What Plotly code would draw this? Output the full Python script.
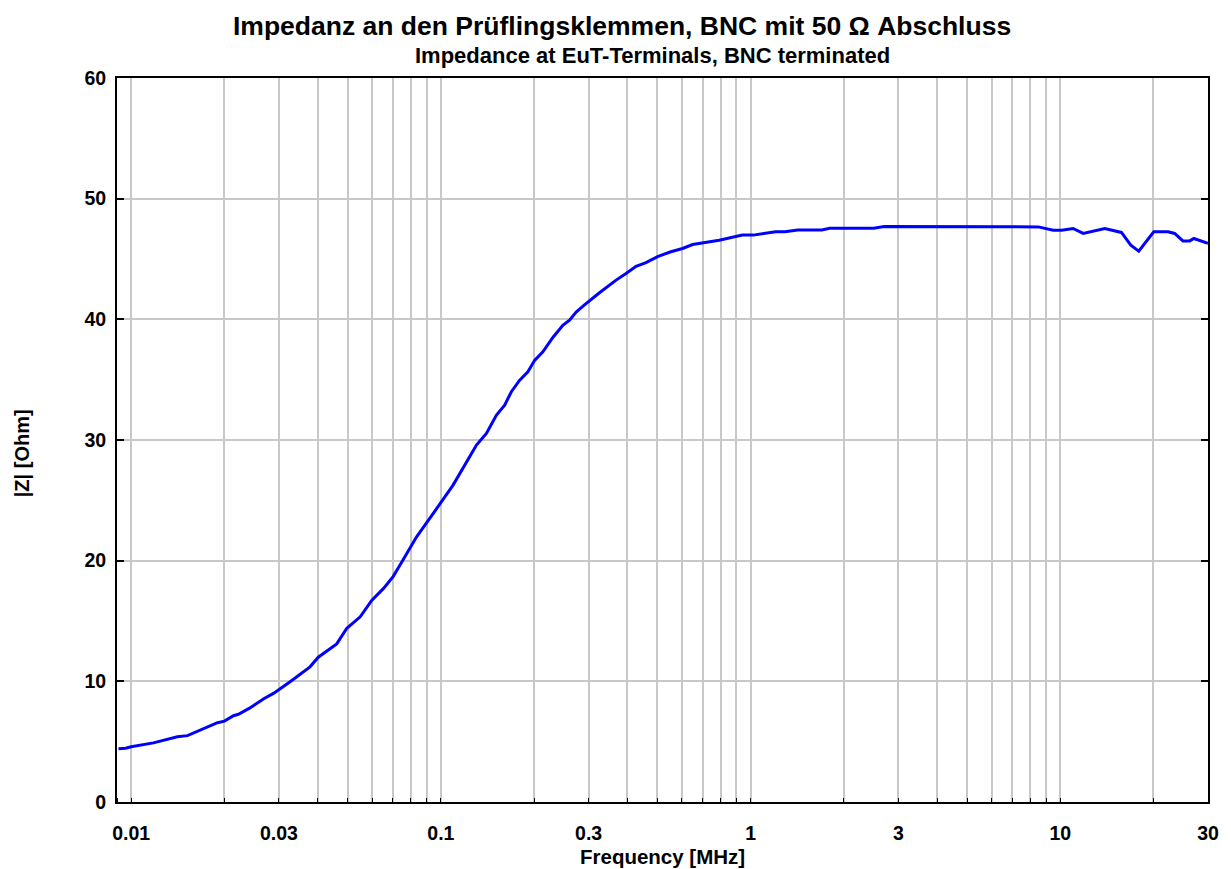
import math
import plotly.graph_objects as go

# Data
freq_mhz = [0.0091, 0.0096, 0.0100, 0.0118, 0.0141, 0.0152, 0.0190, 0.0200, 0.0214, 0.0222, 0.0242,
            0.0268, 0.0288, 0.0299, 0.0326, 0.0378, 0.0402, 0.0461, 0.0497, 0.0549, 0.0598,
            0.0653, 0.0702, 0.0752, 0.0835, 0.0944, 0.1095, 0.1303, 0.1403, 0.1512, 0.1607,
            0.1689, 0.1797, 0.1910, 0.2008, 0.2135, 0.2300, 0.2476, 0.2603, 0.2735, 0.2909,
            0.3252, 0.3680, 0.3963, 0.4268, 0.4597, 0.5010, 0.5530, 0.6030, 0.6500, 0.7920,
            0.9410, 1.020, 1.205, 1.290, 1.420, 1.700, 1.800, 2.500, 2.700, 4.36, 8.5, 9.49,
            10.1, 11.0, 11.86, 13.93, 15.76, 16.9, 17.93, 20.04, 22.28, 23.41, 24.9, 26.2,
            27.0, 30.0]
z_ohm = [4.42, 4.45, 4.58, 4.9, 5.4, 5.5, 6.57, 6.7, 7.15, 7.27, 7.8,
         8.56, 9.0, 9.28, 9.97, 11.2, 12.0, 13.1, 14.4, 15.35, 16.7,
         17.7, 18.7, 20.0, 21.98, 23.9, 26.26, 29.58, 30.55, 32.06, 32.89,
         34.0, 34.96, 35.65, 36.6, 37.3, 38.5, 39.5, 39.93, 40.6, 41.2,
         42.2, 43.25, 43.8, 44.4, 44.7, 45.2, 45.6, 45.87, 46.2, 46.56,
         46.98, 46.98, 47.25, 47.25, 47.4, 47.4, 47.55, 47.55, 47.7, 47.66, 47.66, 47.39,
         47.39, 47.53, 47.12, 47.53, 47.2, 46.15, 45.65, 47.25, 47.25, 47.12, 46.5, 46.5,
         46.7, 46.3]

x_tick_vals = [0.01, 0.03, 0.1, 0.3, 1, 3, 10, 30]
x_tick_text = ["0.01", "0.03", "0.1", "0.3", "1", "3", "10", "30"]
decades = [0.01, 0.1, 1, 10]
grid_vals = [m * d for d in [0.001, 0.01, 0.1, 1, 10] for m in range(1, 10)]
grid_vals = [g for g in grid_vals if 0.009 <= g <= 30]

title_main = "Impedanz an den Prüflingsklemmen, BNC mit 50 Ω Abschluss"
title_sub = "Impedance at EuT-Terminals, BNC terminated"
x_title = "Frequency [MHz]"
y_title = "|Z| [Ohm]"

FONT = "Liberation Sans, Arial, sans-serif"
GRID = "#c8c8c8"
xr = [math.log10(0.009), math.log10(30)]

fig = go.Figure()
fig.add_trace(go.Scatter(x=freq_mhz, y=z_ohm, mode="lines",
                         line=dict(color="#0000ff", width=3), showlegend=False))

fig.update_layout(
    width=1223, height=861,
    margin=dict(l=109, r=21, t=70, b=67),
    paper_bgcolor="white", plot_bgcolor="white",
    font=dict(family=FONT, color="black"),
    xaxis=dict(
        type="log", range=xr,
        tickvals=x_tick_vals, ticktext=["<b>" + t + "</b>" for t in x_tick_text],
        ticks="", showgrid=True, gridcolor=GRID, gridwidth=1.5,
        tickfont=dict(size=19.5, family=FONT, color="black"),
        ticklabelstandoff=13,
        showline=True, linecolor="black", linewidth=2, mirror=True,
        zeroline=False,
        minor=dict(tickvals=grid_vals, ticks="inside", ticklen=4, tickcolor="black",
                   showgrid=True, gridcolor=GRID, gridwidth=1.5),
    ),
    xaxis2=dict(
        type="log", range=xr, overlaying="x", anchor="y", side="bottom",
        tickvals=decades, ticks="inside", ticklen=8, tickcolor="black", tickwidth=2,
        showticklabels=False, showgrid=False, zeroline=False, mirror="ticks", showline=False,
    ),
    yaxis=dict(
        range=[0, 60], dtick=10, tick0=0,
        ticks="inside", ticklen=7, tickcolor="black", tickwidth=2,
        showgrid=True, gridcolor=GRID, gridwidth=1.5,
        showline=True, linecolor="black", linewidth=2, mirror="ticks",
        zeroline=False, ticklabelstandoff=5,
        tickprefix="<b>", ticksuffix="</b>",
        tickfont=dict(size=19.5, family=FONT, color="black"),
    ),
)

fig.add_annotation(text="<b>" + title_main + "</b>", xref="paper", yref="paper",
                   x=0.4625, y=1.0725, xanchor="center", yanchor="middle", showarrow=False,
                   font=dict(size=26.5, family=FONT, color="black"))
fig.add_annotation(text="<b>" + title_sub + "</b>", xref="paper", yref="paper",
                   x=0.491, y=1.031, xanchor="center", yanchor="middle", showarrow=False,
                   font=dict(size=22, family=FONT, color="black"))
fig.add_annotation(text="<b>" + x_title + "</b>", xref="paper", yref="paper",
                   x=0.5, y=-0.0746, xanchor="center", yanchor="middle", showarrow=False,
                   font=dict(size=20.5, family=FONT, color="black"))
fig.add_annotation(text="<b>" + y_title + "</b>", xref="paper", yref="paper",
                   x=-0.0869, y=0.482, xanchor="center", yanchor="middle", showarrow=False,
                   textangle=-90, font=dict(size=20, family=FONT, color="black"))

fig.write_html("out.html")
